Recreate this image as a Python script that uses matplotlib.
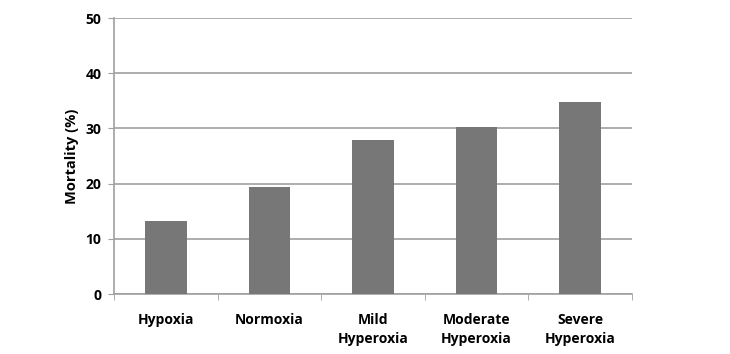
import numpy as np
import matplotlib.pyplot as plt

categories = ['Hypoxia', 'Normoxia', 'Mild\nHyperoxia', 'Moderate\nHyperoxia', 'Severe\nHyperoxia']
mortality = [13.2, 19.4, 27.9, 30.2, 34.8]
yticks = [0, 10, 20, 30, 40, 50]

plt.rcParams['font.family'] = ['Open Sans', 'DejaVu Sans']
plt.rcParams['font.weight'] = 'bold'

fig = plt.figure(figsize=(7.3, 3.54), dpi=100)
ax = fig.add_axes([114/730, 1 - 294/354, 518/730, 276/354])

x = np.arange(len(categories))
ax.bar(x, mortality, width=0.4, color='#777777', zorder=3)

ax.set_xlim(-0.5, len(categories) - 0.5)
ax.set_ylim(0, 50)
ax.set_yticks(yticks)
ax.yaxis.grid(True, color='#a0a0a0', linewidth=1.2, zorder=0)

ax.set_xticks(x)
ax.set_xticklabels(categories, fontsize=10, fontweight='bold', linespacing=1.45)
ax.set_xticks(np.arange(-0.5, len(categories)), minor=True)
ax.tick_params(axis='x', which='major', length=0, pad=14)
ax.tick_params(axis='x', which='minor', length=4, color='#a0a0a0', direction='out')
ax.tick_params(axis='y', length=4, color='#a0a0a0', labelsize=10, pad=5)
for lab in ax.get_yticklabels():
    lab.set_fontweight('bold')

for s in ['top', 'right']:
    ax.spines[s].set_visible(False)
for s in ['left', 'bottom']:
    ax.spines[s].set_color('#a0a0a0')
    ax.spines[s].set_linewidth(1.2)

ax.set_ylabel('Mortality (%)', fontsize=10.5, fontweight='bold', labelpad=5)

fig.savefig('out.png', dpi=100)
